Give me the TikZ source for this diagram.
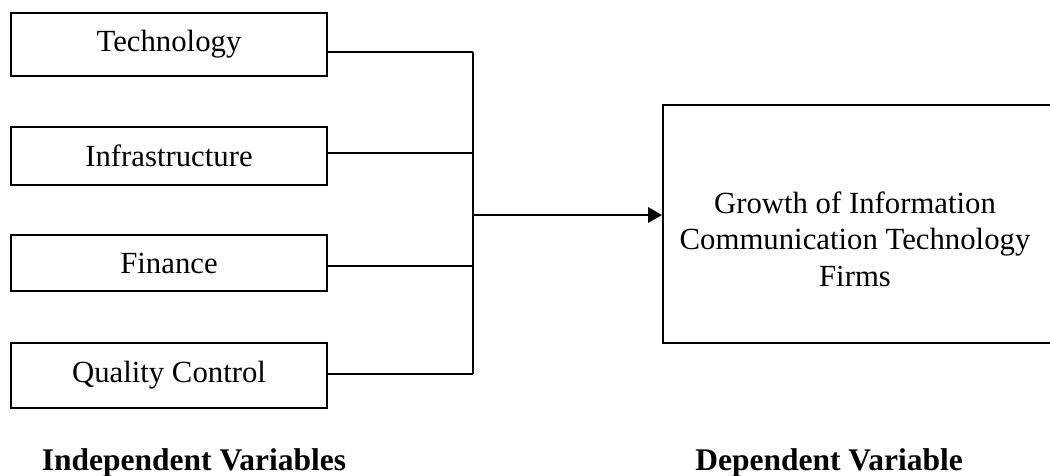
\documentclass[tikz,border=0pt]{standalone}
\usepackage{fontspec}
\setmainfont{Liberation Serif}
\usetikzlibrary{arrows.meta}
\tikzset{
  ivbox/.style={draw, line width=0.8pt, minimum width=126.4pt, inner sep=0pt, font=\fontsize{12.3}{14.6}\selectfont},
  depbox/.style={draw, line width=0.8pt, inner sep=0pt},
  wire/.style={line width=0.8pt},
  arrowwire/.style={line width=0.8pt, -{Triangle[length=5.6pt,width=6.2pt]}},
  caption/.style={anchor=base, font=\fontsize{12.6}{15}\selectfont\bfseries, inner sep=0pt},
  deptext/.style={align=center, font=\fontsize{12.3}{14.6}\selectfont, inner sep=0pt}
}
\begin{document}
\begin{tikzpicture}[x=0.4pt, y=-0.4pt]
\clip (0,0) rectangle (1050,475);
\useasboundingbox (0,0) rectangle (1050,475);
% independent variable boxes
\node[ivbox, minimum height=25.2pt] (tech) at (169,44.5) {Technology};
\node[ivbox, minimum height=23.2pt] (infra) at (169,156) {Infrastructure};
\node[ivbox, minimum height=22.4pt] (fin) at (169,263) {Finance};
\node[ivbox, minimum height=26pt] (qc) at (169,375.5) {Quality Control};
% dependent variable box (right side runs past the edge)
\node[depbox, minimum width=162pt, minimum height=95.2pt] (dep) at (865.5,224) {};
\node[deptext] (deptxt) at (855,239) {Growth of Information\\Communication Technology\\Firms};
% bus coordinates
\coordinate (b1) at (473,52);
\coordinate (b2) at (473,153);
\coordinate (b3) at (473,266);
\coordinate (b4) at (473,374);
\coordinate (bm) at (473,215);
\draw[wire] (tech.east |- b1) -- (b1);
\draw[wire] (infra.east |- b2) -- (b2);
\draw[wire] (fin.east |- b3) -- (b3);
\draw[wire] (qc.east |- b4) -- (b4);
\draw[wire] (b1) -- (b4);
\draw[arrowwire] (bm) -- (dep.west |- bm);
% captions
\node[caption] (indep) at (194,470) {Independent Variables};
\node[caption] (depcap) at (829,470) {Dependent Variable};
\end{tikzpicture}
\end{document}
